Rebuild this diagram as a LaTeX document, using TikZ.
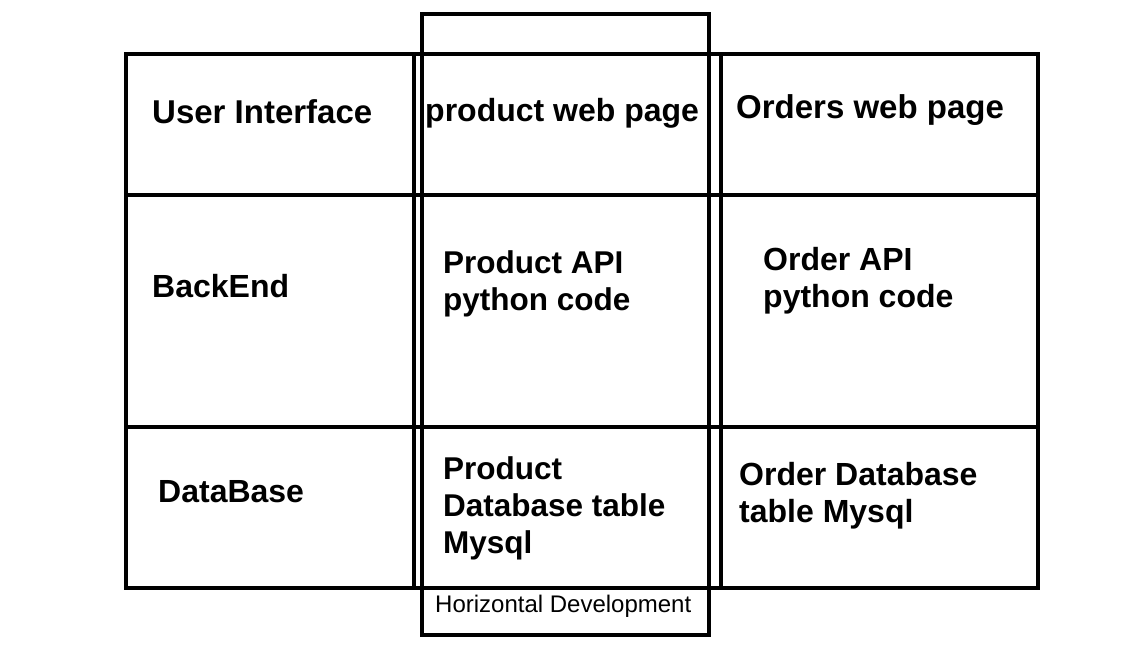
\documentclass[tikz,border=0pt]{standalone}
\usepackage{fontspec}
\setmainfont{Liberation Sans}
\tikzset{
  grid/.style={line width=4pt, line cap=rect},
  lbl/.style={anchor=base west, inner sep=0pt, font=\bfseries\fontsize{32}{37}\selectfont},
  lblbig/.style={anchor=base west, inner sep=0pt, font=\bfseries\fontsize{33}{38}\selectfont},
  lblsm/.style={anchor=base west, inner sep=0pt, font=\bfseries\fontsize{31.5}{37}\selectfont},
  small/.style={anchor=base west, inner sep=0pt, font=\fontsize{24}{28}\selectfont}
}
\begin{document}
\begin{tikzpicture}[x=1pt,y=-1pt]
\useasboundingbox (0,0) rectangle (1137,653);
% grid
\draw[grid] (126,54) rectangle (1038,588);
\draw[grid] (414,54) -- (414,588);
\draw[grid] (721,54) -- (721,588);
\draw[grid] (126,195) -- (1038,195);
\draw[grid] (126,427) -- (1038,427);
% horizontal development box
\draw[grid] (422,14) rectangle (709,635);
% labels
\node[lblbig] (ui) at (152,123) {User Interface};
\node[lbl] (pwp) at (425,121) {product web page};
\node[lblbig] (owp) at (736,118) {Orders web page};
\node[lbl] (be) at (152,297) {BackEnd};
\node[lblsm] (papi1) at (443,273) {Product API};
\node[lblsm] (papi2) at (443,310) {python code};
\node[lbl] (oapi1) at (763,270) {Order API};
\node[lbl] (oapi2) at (763,307) {python code};
\node[lbl] (db) at (158,502) {DataBase};
\node[lblsm] (pdb1) at (443,479) {Product};
\node[lblsm] (pdb2) at (443,516) {Database table};
\node[lblsm] (pdb3) at (443,553) {Mysql};
\node[lbl] (odb1) at (739,485) {Order Database};
\node[lbl] (odb2) at (739,522) {table Mysql};
\node[small] (hd) at (435,612) {Horizontal Development};
\end{tikzpicture}
\end{document}
